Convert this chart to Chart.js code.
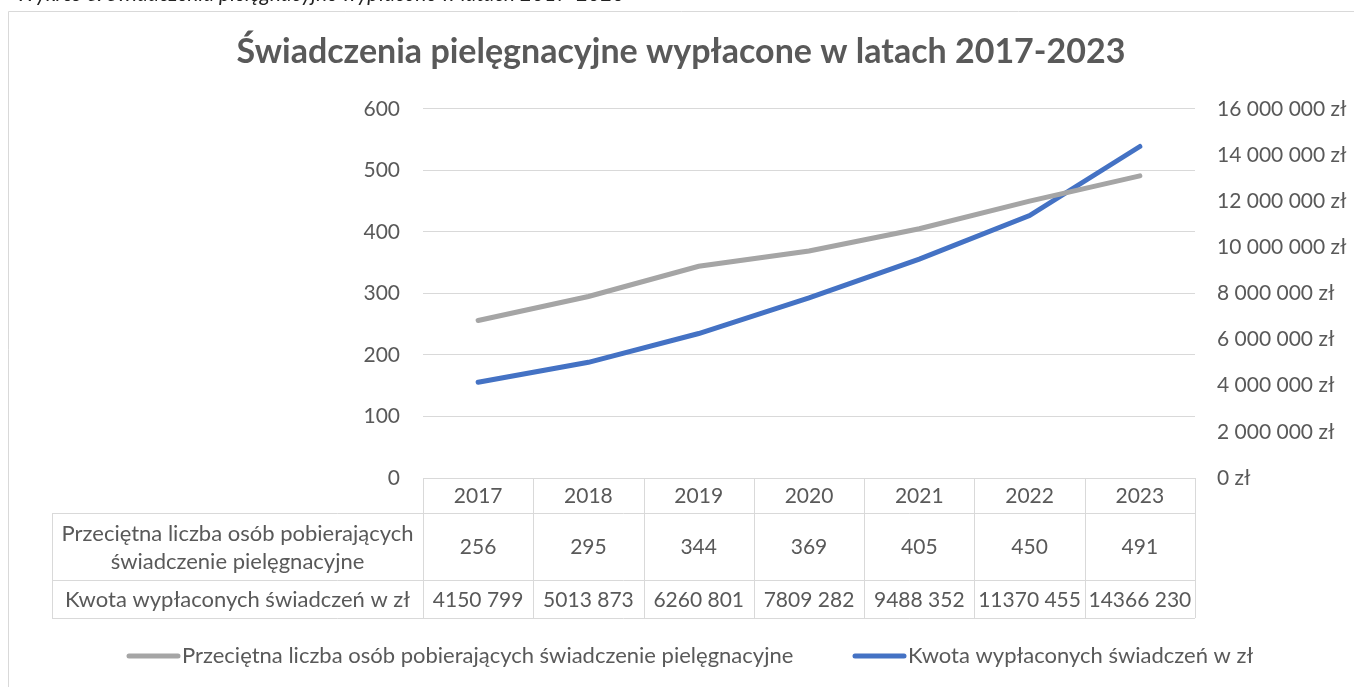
<!DOCTYPE html>
<html>

<head>
	<meta charset="utf-8">
	<title>Świadczenia pielęgnacyjne</title>
	<script src="https://cdn.jsdelivr.net/npm/chart.js"></script>
	<style>
		html, body { margin: 0; padding: 0; background: #fff; overflow: hidden; }
		#caption {
			position: absolute; left: 16px; top: -20px; margin: 0;
			font: italic 21px Lato, sans-serif; color: #222;
		}
	</style>
</head>

<body>
	<p id="caption">Wykres 6. Świadczenia pielęgnacyjne wypłacone w latach 2017-2023</p>
	<canvas id="canvas" width="1354" height="687"></canvas>

	<script>
		// dane z wykresu
		const lata = ['2017', '2018', '2019', '2020', '2021', '2022', '2023']
		const liczbaOsob = [256, 295, 344, 369, 405, 450, 491]
		const kwota = [4150799, 5013873, 6260801, 7809282, 9488352, 11370455, 14366230]
		const nazwaOsoby = 'Przeciętna liczba osób pobierających świadczenie pielęgnacyjne'
		const nazwaOsobyWiersz = ['Przeciętna liczba osób pobierających', 'świadczenie pielęgnacyjne']
		const nazwaKwota = 'Kwota wypłaconych świadczeń w zł'

		const FONT = 'Lato, sans-serif'
		const SZARY = '#595959'
		const LINIA = '#D9D9D9'
		const kolorOsoby = '#A5A5A5'
		const kolorKwota = '#4472C4'

		function spacje(n) {
			return String(n).replace(/\B(?=(\d{3})+(?!\d))/g, ' ')
		}
		// w tabeli tylko ostatnia grupa jest oddzielona
		function kwotaTabela(n) {
			const s = String(n)
			return s.slice(0, -3) + ' ' + s.slice(-3)
		}

		// tabela danych + legenda + ramka
		const tabelaPlugin = {
			id: 'tabela',
			afterDraw(chart) {
				const ctx = chart.ctx
				const x = chart.scales.x
				const area = chart.chartArea
				const szer = (area.right - area.left) / lata.length
				const y0 = area.bottom, y1 = 513, y2 = 580, y3 = 618
				const lewo = 52

				ctx.save()
				ctx.strokeStyle = LINIA
				ctx.lineWidth = 1
				ctx.beginPath()
				// poziome
				ctx.moveTo(area.left, y0 + 0.5); ctx.lineTo(area.right, y0 + 0.5)
				for (const y of [y1, y2, y3]) {
					ctx.moveTo(lewo, y + 0.5); ctx.lineTo(area.right, y + 0.5)
				}
				// pionowe
				ctx.moveTo(lewo + 0.5, y1); ctx.lineTo(lewo + 0.5, y3)
				for (let i = 0; i <= lata.length; i++) {
					const px = Math.round(area.left + i * szer) + 0.5
					ctx.moveTo(px, y0); ctx.lineTo(px, y3)
				}
				ctx.stroke()

				// ramka wykresu
				ctx.beginPath()
				ctx.rect(8.5, 11.5, 1400, 700)
				ctx.stroke()

				ctx.fillStyle = SZARY
				ctx.textAlign = 'center'
				ctx.textBaseline = 'middle'
				ctx.font = '21px ' + FONT
				lata.forEach((rok, i) => {
					const cx = x.getPixelForValue(i)
					ctx.fillText(rok, cx, (y0 + y1) / 2 + 1)
					ctx.fillText(String(liczbaOsob[i]), cx, (y1 + y2) / 2 + 1)
					ctx.fillText(kwotaTabela(kwota[i]), cx, (y2 + y3) / 2 + 1)
				})
				ctx.font = '22px ' + FONT
				const cl = (lewo + area.left) / 2
				ctx.fillText(nazwaOsobyWiersz[0], cl, (y1 + y2) / 2 - 13)
				ctx.fillText(nazwaOsobyWiersz[1], cl, (y1 + y2) / 2 + 15)
				ctx.fillText(nazwaKwota, cl, (y2 + y3) / 2 + 1)

				// legenda
				const legenda = [
					{ x: 127, kolor: kolorOsoby, tekst: nazwaOsoby },
					{ x: 853, kolor: kolorKwota, tekst: nazwaKwota }
				]
				ctx.textAlign = 'left'
				ctx.lineCap = 'round'
				ctx.lineWidth = 5
				legenda.forEach(l => {
					ctx.strokeStyle = l.kolor
					ctx.beginPath()
					ctx.moveTo(l.x + 2, 656); ctx.lineTo(l.x + 51, 656)
					ctx.stroke()
					ctx.fillText(l.tekst, l.x + 55, 656)
				})
				ctx.restore()
			}
		}

		const canvas = document.querySelector('#canvas')
		const ctx = canvas.getContext('2d')
		const chart = new Chart(ctx, {
			type: 'line',
			data: {
				labels: lata,
				datasets: [{
					label: nazwaOsoby,
					data: liczbaOsob,
					borderColor: kolorOsoby,
					borderWidth: 5,
					borderCapStyle: 'round',
					pointRadius: 0,
					tension: 0,
					yAxisID: 'y'
				}, {
					label: nazwaKwota,
					data: kwota,
					borderColor: kolorKwota,
					borderWidth: 5,
					borderCapStyle: 'round',
					pointRadius: 0,
					tension: 0,
					yAxisID: 'y1'
				}]
			},
			options: {
				responsive: false,
				animation: false,
				layout: { padding: { left: 8, right: 0, top: 0, bottom: 0 } },
				plugins: {
					legend: { display: false },
					tooltip: { enabled: false },
					title: {
						display: true,
						text: 'Świadczenia pielęgnacyjne wypłacone w latach 2017-2023',
						color: SZARY,
						font: { family: FONT, size: 34, weight: 'bold' },
						padding: { top: 32, bottom: 36 }
					}
				},
				scales: {
					x: {
						offset: true,
						ticks: { display: false },
						grid: { display: false },
						border: { display: false },
						afterFit(s) { s.height = 209 }
					},
					y: {
						position: 'left',
						min: 0, max: 600,
						ticks: { stepSize: 100, color: SZARY, padding: 23, font: { family: FONT, size: 21 } },
						grid: { color: LINIA, drawTicks: false },
						border: { display: false },
						afterFit(s) { s.width = 415 }
					},
					y1: {
						position: 'right',
						min: 0, max: 16000000,
						ticks: {
							stepSize: 2000000, color: SZARY, padding: 22,
							font: { family: FONT, size: 21 },
							callback: v => spacje(v) + ' zł'
						},
						grid: { display: false, drawTicks: false },
						border: { display: false },
						afterFit(s) { s.width = 159 }
					}
				}
			},
			plugins: [tabelaPlugin]
		});
	</script>
</body>

</html>
